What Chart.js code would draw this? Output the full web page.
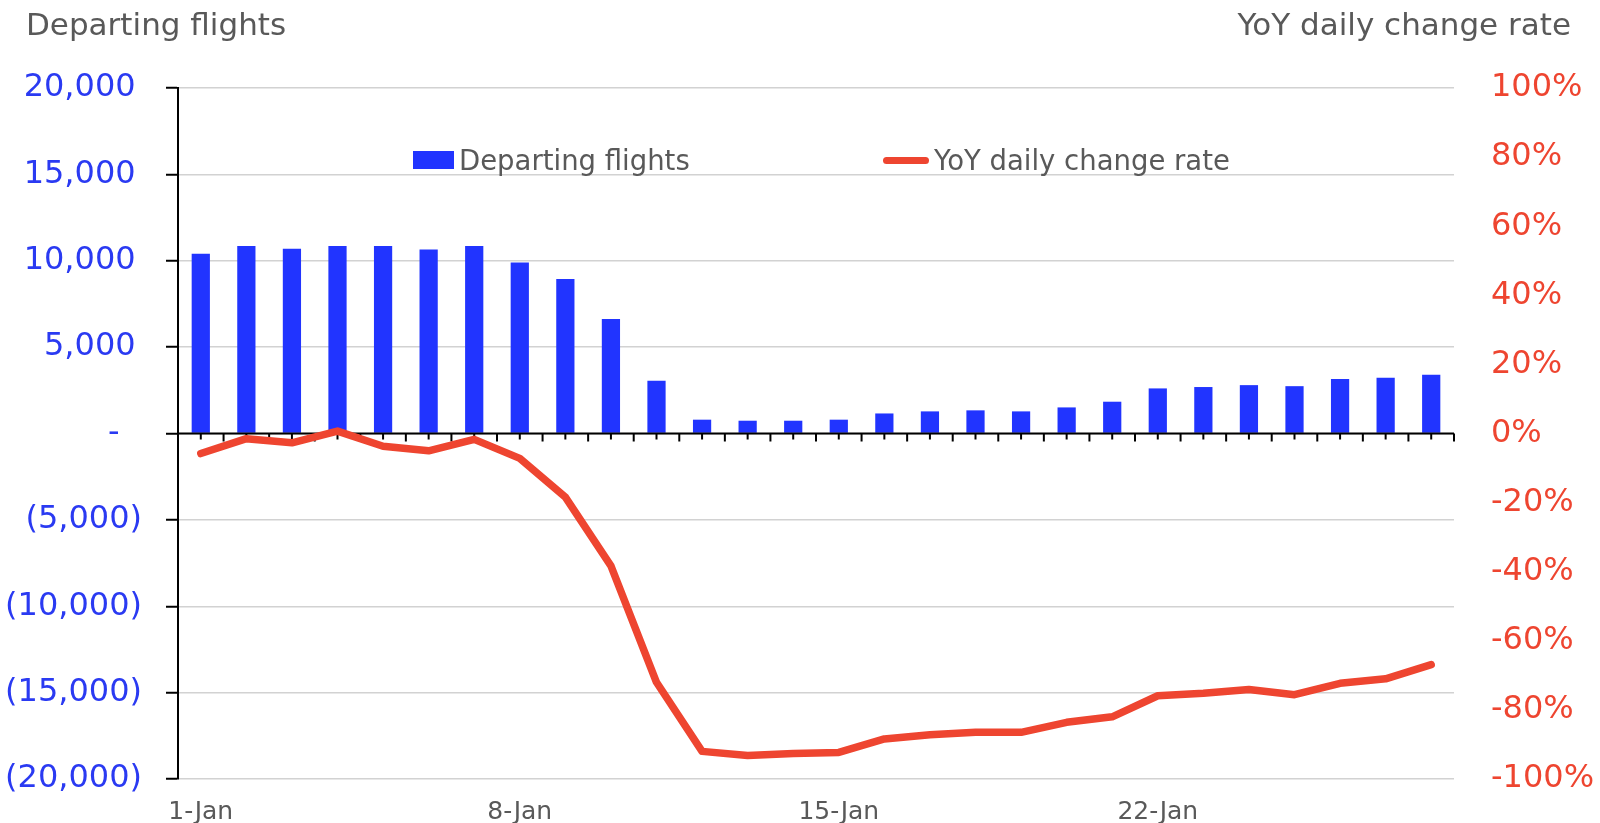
<!DOCTYPE html>
<html lang="en">
<head>
  <meta charset="UTF-8">
  <title>Departing flights vs YoY daily change rate</title>
  <script src="https://cdn.jsdelivr.net/npm/chart.js"></script>
  <style>
    body { margin: 0; background: #fff; }
    #wrap { position: relative; width: 1600px; height: 823px; font-family: "DejaVu Sans", sans-serif; color: #595959; }
    .title { position: absolute; top: 9px; font-size: 31px; line-height: 31px; white-space: nowrap; }
    .legend { position: absolute; top: 140px; height: 40px; display: flex; align-items: center; font-size: 27.5px; white-space: nowrap; }
    .swatch { display: inline-block; margin-right: 5px; }
  </style>
</head>
<body>
  <div id="wrap">
    <canvas id="chart" width="1600" height="823"></canvas>
    <div class="title" style="left:26px">Departing flights</div>
    <div class="title" style="right:29px">YoY daily change rate</div>
    <div class="legend" style="left:413px"><span class="swatch" style="width:41px;height:18px;background:#2134FF"></span>Departing flights</div>
    <div class="legend" style="left:883px"><span class="swatch" style="width:46px;height:7px;border-radius:4px;background:#EE4530"></span>YoY daily change rate</div>
  </div>

  <script>
    // data
    const categories = ['1-Jan', '2-Jan', '3-Jan', '4-Jan', '5-Jan', '6-Jan', '7-Jan',
      '8-Jan', '9-Jan', '10-Jan', '11-Jan', '12-Jan', '13-Jan', '14-Jan',
      '15-Jan', '16-Jan', '17-Jan', '18-Jan', '19-Jan', '20-Jan', '21-Jan',
      '22-Jan', '23-Jan', '24-Jan', '25-Jan', '26-Jan', '27-Jan', '28-Jan'];
    const flights = [10400, 10850, 10700, 10850, 10850, 10650, 10850,
      9900, 8950, 6630, 3050, 800, 740, 740,
      800, 1160, 1280, 1340, 1280, 1510, 1840,
      2610, 2690, 2800, 2740, 3150, 3230, 3400];
    const yoyChange = [-5.8, -1.5, -2.7, 0.7, -3.7, -5.0, -1.7,
      -7.2, -18.4, -38.3, -72.0, -92.0, -93.2, -92.6,
      -92.3, -88.4, -87.2, -86.5, -86.5, -83.6, -82.0,
      -75.9, -75.2, -74.1, -75.6, -72.3, -71.0, -66.9];
    const flightTicks = [-20000, -15000, -10000, -5000, 0, 5000, 10000, 15000, 20000];
    const rateTicks = [-100, -80, -60, -40, -20, 0, 20, 40, 60, 80, 100];
    const labelEvery = 7;

    const BLUE = '#2134FF';
    const BLUE_TEXT = '#2a3af2';
    const RED = '#EE4530';
    const GRAY = '#595959';

    function fmtFlights(v) {
      if (v === 0) return '-\u2002\u2009';
      const s = Math.abs(v).toLocaleString('en-US');
      return v < 0 ? '(' + s + ')' : s + '\u2009';
    }

    // label padding otherwise eats into the bottom of the plot
    function trimPadding(s) {
      s.paddingBottom = 0;
      s.paddingTop = 0;
    }

    // black zero line with ticks, drawn after the bars and before the line
    const zeroAxis = {
      id: 'zeroAxis',
      afterDatasetDraw(chart, args) {
        if (args.meta.type !== 'bar') return;
        const x = chart.scales.x, y = chart.scales.y;
        const ctx = chart.ctx;
        const y0 = y.getPixelForValue(0);
        const half = (x.getPixelForValue(1) - x.getPixelForValue(0)) / 2;
        ctx.save();
        ctx.strokeStyle = '#000';
        ctx.lineWidth = 2;
        ctx.beginPath();
        ctx.moveTo(chart.chartArea.left, y0);
        ctx.lineTo(chart.chartArea.right, y0);
        for (let i = 0; i < categories.length; i++) {
          const c = x.getPixelForValue(i);
          ctx.moveTo(c, y0);
          ctx.lineTo(c, y0 + 6);
          ctx.moveTo(c + half, y0);
          ctx.lineTo(c + half, y0 + 8);
        }
        ctx.stroke();
        ctx.restore();
      }
    };

    new Chart(document.getElementById('chart'), {
      type: 'bar',
      data: {
        labels: categories,
        datasets: [
          {
            type: 'line',
            label: 'YoY daily change rate',
            data: yoyChange,
            yAxisID: 'y2',
            borderColor: RED,
            borderWidth: 7.5,
            borderCapStyle: 'round',
            borderJoinStyle: 'round',
            pointRadius: 0,
            tension: 0,
            order: 0
          },
          {
            label: 'Departing flights',
            data: flights,
            yAxisID: 'y',
            backgroundColor: BLUE,
            barPercentage: 0.4,
            categoryPercentage: 1,
            order: 1
          }
        ]
      },
      options: {
        responsive: false,
        animation: false,
        layout: { padding: { top: 88, left: 0, right: 0, bottom: 0 } },
        plugins: { legend: { display: false }, tooltip: { enabled: false } },
        scales: {
          x: {
            grid: { display: false, drawTicks: false },
            border: { display: false },
            ticks: {
              autoSkip: false,
              maxRotation: 0,
              padding: 18,
              color: GRAY,
              font: { family: 'DejaVu Sans', size: 25 },
              callback: (v, i) => i % labelEvery === 0 ? categories[i] : ''
            },
            afterFit: s => { s.height = 44; }
          },
          y: {
            position: 'left',
            min: flightTicks[0],
            max: flightTicks[flightTicks.length - 1],
            afterBuildTicks: s => { s.ticks = flightTicks.map(v => ({ value: v })); },
            grid: { color: '#d2d2d2', lineWidth: 1.5, tickColor: '#000', tickLength: 12, tickWidth: 2 },
            border: { color: '#000', width: 2 },
            ticks: {
              padding: 24,
              color: BLUE_TEXT,
              font: { family: 'DejaVu Sans', size: 32 },
              callback: v => fmtFlights(v)
            },
            afterFit: s => { s.width = 178; trimPadding(s); }
          },
          y2: {
            position: 'right',
            min: rateTicks[0],
            max: rateTicks[rateTicks.length - 1],
            afterBuildTicks: s => { s.ticks = rateTicks.map(v => ({ value: v })); },
            grid: { display: false, drawTicks: false },
            border: { display: false },
            ticks: {
              padding: 37,
              color: RED,
              font: { family: 'DejaVu Sans', size: 32 },
              callback: v => v + '%'
            },
            afterFit: s => { s.width = 146; trimPadding(s); }
          }
        }
      },
      plugins: [zeroAxis]
    });
  </script>
</body>
</html>
